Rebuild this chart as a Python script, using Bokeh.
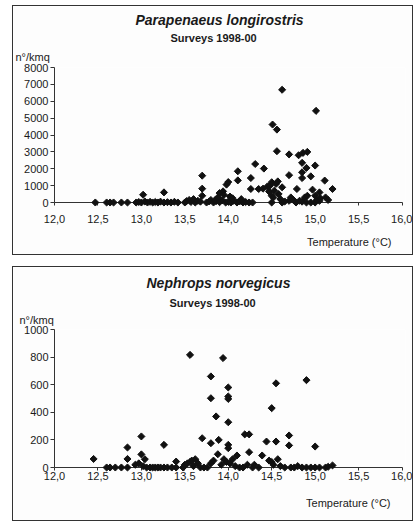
import math
from bokeh.plotting import figure
from bokeh.models import Range1d, Title, SingleIntervalTicker, CustomJSTickFormatter
from bokeh.layouts import column
from bokeh.embed import file_html
from bokeh.resources import INLINE

# ---- Parapenaeus longirostris (n°/kmq vs temperature) ----
para_temp = [12.47, 12.60, 12.64, 12.68, 12.77, 12.84, 12.94, 12.97, 13.00, 13.04,
             13.07, 13.10, 13.13, 13.16, 13.19, 13.22, 13.26, 13.30, 13.34, 13.38,
             13.42, 13.50, 13.52, 13.55, 13.57, 13.60, 13.62, 13.65, 13.68, 13.75,
             13.78, 13.80, 13.83, 13.86, 13.90, 13.93, 13.97, 14.00, 14.03, 14.06,
             14.10, 14.13, 14.17, 14.20, 14.24, 14.28, 14.50, 14.62, 14.70, 14.78,
             14.85, 14.90, 14.95, 15.00, 15.05,
             13.02, 13.26, 13.70, 13.70, 13.70, 13.85, 13.88, 13.90, 13.94, 13.98,
             13.95, 14.00, 14.02, 14.05, 14.11, 14.11, 14.15, 14.26, 14.26, 14.31,
             14.35, 14.41, 14.40, 14.45, 14.47, 14.48, 14.50, 14.50, 14.51, 14.52,
             14.53, 14.55, 14.56, 14.56, 14.57, 14.58, 14.60, 14.62, 14.62, 14.65,
             14.70, 14.70, 14.72, 14.75, 14.79, 14.81, 14.82, 14.85, 14.85, 14.85,
             14.86, 14.88, 14.90, 14.91, 14.91, 14.95, 14.97, 15.00, 15.00, 15.01,
             15.02, 15.05, 15.06, 15.11, 15.12, 15.15, 15.20]
para_dens = [0, 0, 0, 0, 0, 0, 0, 30, 0, 60,
             0, 40, 0, 30, 0, 50, 0, 20, 0, 40,
             0, 0, 80, 150, 30, 200, 0, 100, 50, 0,
             60, 150, 0, 80, 20, 120, 0, 50, 0, 100,
             0, 60, 0, 30, 0, 0, 0, 0, 100, 0,
             50, 0, 0, 0, 100,
             460, 600, 400, 820, 1590, 150, 300, 560, 660, 1060,
             450, 1210, 350, 250, 1850, 1310, 200, 1450, 800, 2280,
             800, 2010, 820, 950, 650, 1000, 1200, 400, 4620, 300,
             700, 1100, 4320, 3040, 1250, 500, 200, 6680, 900, 60,
             2850, 1620, 300, 150, 800, 2800, 100, 2350, 1790, 1450,
             2940, 300, 2050, 3000, 400, 1550, 760, 2190, 400, 5430,
             150, 600, 250, 1300, 300, 150, 800]

# ---- Nephrops norvegicus ----
neph_temp = [12.45, 12.60, 12.64, 12.70, 12.77, 12.84, 12.84, 12.84, 12.93, 12.97,
             13.00, 13.00, 13.04, 13.02, 13.06, 13.10, 13.13, 13.16, 13.19, 13.22,
             13.26, 13.26, 13.30, 13.35, 13.40, 13.40, 13.48, 13.50, 13.53, 13.56,
             13.56, 13.58, 13.60, 13.62, 13.65, 13.68, 13.70, 13.72, 13.76, 13.80,
             13.80, 13.80, 13.80, 13.83, 13.86, 13.88, 13.89, 13.92, 13.94, 13.95,
             13.98, 14.00, 14.00, 14.00, 14.00, 14.00, 14.00, 14.02, 14.05, 14.08,
             14.10, 14.13, 14.17, 14.19, 14.22, 14.24, 14.24, 14.28, 14.30, 14.35,
             14.39, 14.44, 14.47, 14.50, 14.50, 14.52, 14.55, 14.55, 14.57, 14.60,
             14.65, 14.70, 14.70, 14.72, 14.76, 14.80, 14.85, 14.90, 14.90, 14.95,
             15.00, 15.00, 15.05, 15.12, 15.15, 15.20]
neph_dens = [62, 0, 0, 0, 0, 145, 62, 0, 20, 30,
             225, 95, 60, 10, 0, 0, 0, 0, 0, 0,
             164, 0, 0, 0, 43, 0, 0, 20, 30, 816,
             40, 50, 10, 60, 30, 0, 212, 0, 0, 660,
             502, 176, 30, 50, 370, 96, 200, 20, 793, 60,
             40, 580, 515, 497, 328, 164, 140, 30, 60, 10,
             87, 0, 0, 240, 20, 240, 111, 0, 20, 0,
             87, 188, 50, 430, 40, 20, 610, 188, 60, 10,
             0, 232, 160, 0, 0, 10, 0, 633, 0, 0,
             152, 0, 0, 0, 5, 15]

FONT = "Liberation Sans"
INK = "#1a1a1a"
LINE = "#333333"


def title(p, s, side, align, offset, standoff, size, style):
    p.add_layout(Title(text=s, align=align, offset=offset, standoff=standoff,
                       text_font=FONT, text_font_size=size, text_font_style=style,
                       text_color=INK), side)


def panel(species, temps, dens, ymax, ystep, height, margin, mb_left, mb_right,
          mb_top, mb_bottom, x_standoff, offs, stand):
    p = figure(width=401, height=height, output_backend="svg", toolbar_location=None,
               x_range=Range1d(12, 16.04), y_range=Range1d(0, ymax),
               min_border_left=mb_left, min_border_right=mb_right,
               min_border_top=mb_top, min_border_bottom=mb_bottom,
               background_fill_color="#fdfdfd", border_fill_color="#fdfdfd",
               outline_line_color=None, margin=margin,
               styles={"border": "1px solid #333"})
    p.grid.visible = False

    p.xaxis.ticker = SingleIntervalTicker(interval=0.5)
    p.yaxis.ticker = SingleIntervalTicker(interval=ystep)
    p.xaxis.formatter = CustomJSTickFormatter(code="return tick.toFixed(1).replace('.', ',')")
    p.xaxis.bounds = (12, 16)
    p.yaxis.bounds = (0, ymax)
    for ax in (p.xaxis, p.yaxis):
        ax.axis_line_color = LINE
        ax.major_tick_line_color = LINE
        ax.minor_tick_line_color = None
        ax.major_tick_in = 0
        ax.major_label_text_font = FONT
        ax.major_label_text_font_size = "11px"
        ax.major_label_text_color = INK
    p.xaxis.major_tick_out = 3
    p.yaxis.major_tick_out = 4
    p.xaxis.major_label_standoff = x_standoff
    p.yaxis.major_label_standoff = 2

    # titles, stacked outward from the frame
    title(p, "n°/kmq", "above", "left", offs[0], stand[0], "11px", "normal")
    title(p, "Surveys 1998-00", "above", "left", offs[1], stand[1], "11px", "bold")
    title(p, species, "above", "left", offs[2], stand[2], "14px", "bold italic")
    title(p, "Temperature (°C)", "below", "right", offs[3], stand[3], "11px", "normal")

    p.scatter(temps, dens, marker="square", angle=math.pi / 4, size=5,
              color="#111111", level="overlay")
    return p


p1 = panel("Parapenaeus longirostris", para_temp, para_dens, 8000, 1000,
           250, (5, 0, 0, 12), 41, 7, 61, 54, 8,
           (-39, 116, 81, 14), (10, 0, 4, 16))
p2 = panel("Nephrops norvegicus", neph_temp, neph_dens, 1000, 200,
           255, (0, 0, 0, 12), 40, 9, 62, 55, 0,
           (-35, 115, 92, 15), (7, 0, 8, 24))

layout = column(p1, p2, spacing=11)
open("out.html", "w").write(file_html(layout, INLINE))
